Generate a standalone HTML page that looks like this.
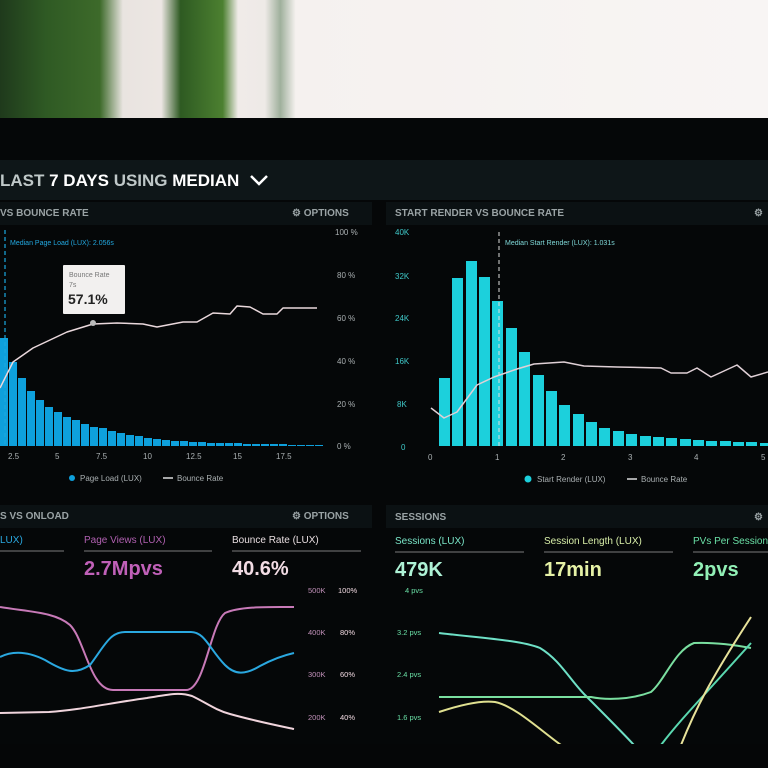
<!DOCTYPE html>
<html><head><meta charset="utf-8"><style>
html,body{margin:0;padding:0;width:768px;height:768px;overflow:hidden;background:#050607;font-family:"Liberation Sans",sans-serif;}
svg{display:block}
</style></head><body>
<svg width="768" height="768" viewBox="0 0 768 768" xmlns="http://www.w3.org/2000/svg" font-family="Liberation Sans, sans-serif">
<defs>
<linearGradient id="top" x1="0" x2="1" y1="0" y2="0">
<stop offset="0" stop-color="#1f3a1c"/>
<stop offset="0.06" stop-color="#2f5a24"/>
<stop offset="0.13" stop-color="#3d6a2a"/>
<stop offset="0.16" stop-color="#e9e4e0"/>
<stop offset="0.21" stop-color="#ece6e3"/>
<stop offset="0.235" stop-color="#2e5a22"/>
<stop offset="0.29" stop-color="#4c8030"/>
<stop offset="0.31" stop-color="#f0ebe8"/>
<stop offset="0.345" stop-color="#eeeae7"/>
<stop offset="0.365" stop-color="#9fb09c"/>
<stop offset="0.385" stop-color="#f5f1ef"/>
<stop offset="1" stop-color="#f8f5f4"/>
</linearGradient>
</defs>
<rect x="0" y="0" width="768" height="120" fill="url(#top)"/>
<rect x="0" y="118" width="768" height="650" fill="#050708"/>
<rect x="0" y="160" width="768" height="40" fill="#0e1618"/>
<text x="0" y="186" font-size="17" font-weight="bold" fill="#bfc8c8">LAST <tspan fill="#ffffff">7 DAYS</tspan> USING <tspan fill="#ffffff">MEDIAN</tspan></text>
<polyline points="251,176 259,184 267,176" fill="none" stroke="#fff" stroke-width="2.5"/>

<!-- panel headers -->
<rect x="0" y="202" width="372" height="23" fill="#0b1113"/>
<rect x="386" y="202" width="382" height="23" fill="#0b1113"/>
<text x="0" y="216" font-size="10" font-weight="bold" fill="#9aa3a5">VS BOUNCE RATE</text>
<text x="292" y="216" font-size="10" font-weight="bold" fill="#9aa3a5">⚙ OPTIONS</text>
<text x="395" y="216" font-size="10" font-weight="bold" fill="#9aa3a5">START RENDER VS BOUNCE RATE</text>
<text x="754" y="216" font-size="10" font-weight="bold" fill="#9aa3a5">⚙</text>

<!-- left chart -->
<g fill="#0ea0dc">
<rect x="0" y="338" width="8" height="108"/><rect x="9" y="362" width="8" height="84"/><rect x="18" y="378" width="8" height="68"/><rect x="27" y="391" width="8" height="55"/><rect x="36" y="400" width="8" height="46"/><rect x="45" y="407" width="8" height="39"/><rect x="54" y="412" width="8" height="34"/><rect x="63" y="417" width="8" height="29"/><rect x="72" y="420" width="8" height="26"/><rect x="81" y="424" width="8" height="22"/><rect x="90" y="427" width="8" height="19"/><rect x="99" y="428" width="8" height="18"/><rect x="108" y="431" width="8" height="15"/><rect x="117" y="433" width="8" height="13"/><rect x="126" y="435" width="8" height="11"/><rect x="135" y="436" width="8" height="10"/><rect x="144" y="438" width="8" height="8"/><rect x="153" y="439" width="8" height="7"/><rect x="162" y="440" width="8" height="6"/><rect x="171" y="441" width="8" height="5"/><rect x="180" y="441" width="8" height="5"/><rect x="189" y="442" width="8" height="4"/><rect x="198" y="442" width="8" height="4"/><rect x="207" y="443" width="8" height="3"/><rect x="216" y="443" width="8" height="3"/><rect x="225" y="443" width="8" height="3"/><rect x="234" y="443" width="8" height="3"/><rect x="243" y="444" width="8" height="2"/><rect x="252" y="444" width="8" height="2"/><rect x="261" y="444" width="8" height="2"/><rect x="270" y="444" width="8" height="2"/><rect x="279" y="444" width="8" height="2"/><rect x="288" y="445" width="8" height="1"/><rect x="297" y="445" width="8" height="1"/><rect x="306" y="445" width="8" height="1"/><rect x="315" y="445" width="8" height="1"/>
</g>
<line x1="5" y1="230" x2="5" y2="446" stroke="#1aa8e0" stroke-width="1.2" stroke-dasharray="4,3"/>
<text x="10" y="245" font-size="7" fill="#22a8e0">Median Page Load (LUX): 2.056s</text>
<polyline points="0,388 13,362 33,348 67,332 93,324 117,323 143,324 157,327 183,322 197,322 213,313 230,314 237,306 250,307 263,314 277,314 283,308 317,308" fill="none" stroke="#ead8dc" stroke-width="1.5" stroke-linejoin="round"/>
<circle cx="93" cy="323" r="3" fill="#bbb"/>
<rect x="63" y="265" width="62" height="49" fill="#f2f0ef" rx="1"/>
<text x="69" y="277" font-size="7" fill="#777">Bounce Rate</text>
<text x="69" y="287" font-size="7" fill="#777">7s</text>
<text x="68" y="304" font-size="14" font-weight="bold" fill="#222">57.1%</text>
<g font-size="8" fill="#aab0b2">
<text x="335" y="235">100 %</text><text x="337" y="278">80 %</text><text x="337" y="321">60 %</text><text x="337" y="364">40 %</text><text x="337" y="407">20 %</text><text x="337" y="449">0 %</text>
<text x="8" y="459">2.5</text><text x="55" y="459">5</text><text x="96" y="459">7.5</text><text x="143" y="459">10</text><text x="186" y="459">12.5</text><text x="233" y="459">15</text><text x="276" y="459">17.5</text>
</g>
<circle cx="72" cy="478" r="3" fill="#0ea0dc"/>
<text x="80" y="481" font-size="8" fill="#aab0b2">Page Load (LUX)</text>
<line x1="163" y1="478" x2="173" y2="478" stroke="#ddd" stroke-width="1.5"/>
<text x="177" y="481" font-size="8" fill="#aab0b2">Bounce Rate</text>

<!-- right chart -->
<g fill="#1cd0dc">
<rect x="439" y="378" width="11" height="68"/><rect x="452" y="278" width="11" height="168"/><rect x="466" y="261" width="11" height="185"/><rect x="479" y="277" width="11" height="169"/><rect x="492" y="301" width="11" height="145"/><rect x="506" y="328" width="11" height="118"/><rect x="519" y="352" width="11" height="94"/><rect x="533" y="375" width="11" height="71"/><rect x="546" y="391" width="11" height="55"/><rect x="559" y="405" width="11" height="41"/><rect x="573" y="414" width="11" height="32"/><rect x="586" y="422" width="11" height="24"/><rect x="599" y="428" width="11" height="18"/><rect x="613" y="431" width="11" height="15"/><rect x="626" y="434" width="11" height="12"/><rect x="640" y="436" width="11" height="10"/><rect x="653" y="437" width="11" height="9"/><rect x="666" y="438" width="11" height="8"/><rect x="680" y="439" width="11" height="7"/><rect x="693" y="440" width="11" height="6"/><rect x="706" y="441" width="11" height="5"/><rect x="720" y="441" width="11" height="5"/><rect x="733" y="442" width="11" height="4"/><rect x="746" y="442" width="11" height="4"/><rect x="760" y="443" width="11" height="3"/>
</g>
<line x1="499" y1="232" x2="499" y2="446" stroke="#ddd" stroke-width="1" stroke-dasharray="4,3"/>
<text x="505" y="245" font-size="7" fill="#7fd8d8">Median Start Render (LUX): 1.031s</text>
<polyline points="431,408 444,418 457,412 477,385 494,377 517,369 534,364 564,362 584,366 617,367 661,368 671,373 687,373 697,368 711,377 737,365 751,377 768,372" fill="none" stroke="#e0d0d6" stroke-width="1.5" stroke-linejoin="round"/>
<g font-size="8" fill="#3fc9c9">
<text x="395" y="235">40K</text><text x="395" y="279">32K</text><text x="395" y="321">24K</text><text x="395" y="364">16K</text><text x="397" y="407">8K</text><text x="401" y="450">0</text>
</g>
<g font-size="8" fill="#aab0b2">
<text x="428" y="460">0</text><text x="495" y="460">1</text><text x="561" y="460">2</text><text x="628" y="460">3</text><text x="694" y="460">4</text><text x="761" y="460">5</text>
</g>
<circle cx="528" cy="479" r="3.5" fill="#1cd0dc"/>
<text x="537" y="482" font-size="8" fill="#aab0b2">Start Render (LUX)</text>
<line x1="627" y1="479" x2="637" y2="479" stroke="#ddd" stroke-width="1.5"/>
<text x="641" y="482" font-size="8" fill="#aab0b2">Bounce Rate</text>

<!-- bottom panels -->
<rect x="0" y="505" width="372" height="23" fill="#0b1113"/>
<rect x="386" y="505" width="382" height="23" fill="#0b1113"/>
<text x="0" y="519" font-size="10" font-weight="bold" fill="#9aa3a5">S VS ONLOAD</text>
<text x="292" y="519" font-size="10" font-weight="bold" fill="#9aa3a5">⚙ OPTIONS</text>
<text x="395" y="520" font-size="10" font-weight="bold" fill="#9aa3a5">SESSIONS</text>
<text x="754" y="520" font-size="10" font-weight="bold" fill="#9aa3a5">⚙</text>

<g font-size="10">
<text x="0" y="543" fill="#2aa8e0">LUX)</text>
<text x="84" y="543" fill="#b060b0">Page Views (LUX)</text>
<text x="232" y="543" fill="#e8dde0">Bounce Rate (LUX)</text>
<text x="395" y="544" fill="#7ae6c8">Sessions (LUX)</text>
<text x="544" y="544" fill="#d8eea8">Session Length (LUX)</text>
<text x="693" y="544" fill="#6ae0a6">PVs Per Session</text>
</g>
<g stroke="#555" stroke-width="1.5">
<line x1="0" y1="551" x2="64" y2="551"/><line x1="84" y1="551" x2="212" y2="551"/><line x1="232" y1="551" x2="361" y2="551"/>
<line x1="395" y1="552" x2="524" y2="552"/><line x1="544" y1="552" x2="673" y2="552"/><line x1="693" y1="552" x2="768" y2="552"/>
</g>
<g font-size="20" font-weight="bold">
<text x="84" y="575" fill="#c060b8">2.7Mpvs</text>
<text x="232" y="575" fill="#f2dce4">40.6%</text>
<text x="395" y="576" fill="#aef2d6">479K</text>
<text x="544" y="576" fill="#e6f2a6">17min</text>
<text x="693" y="576" fill="#92f0b6">2pvs</text>
</g>
<g font-size="7.5">
<text x="308" y="593" fill="#c090b8">500K</text><text x="338" y="593" fill="#f0d8e0">100%</text>
<text x="308" y="635" fill="#c090b8">400K</text><text x="340" y="635" fill="#f0d8e0">80%</text>
<text x="308" y="677" fill="#c090b8">300K</text><text x="340" y="677" fill="#f0d8e0">60%</text>
<text x="308" y="720" fill="#c090b8">200K</text><text x="340" y="720" fill="#f0d8e0">40%</text>
<text x="405" y="593" fill="#6ae0a6">4 pvs</text>
<text x="397" y="635" fill="#6ae0a6">3.2 pvs</text>
<text x="397" y="677" fill="#6ae0a6">2.4 pvs</text>
<text x="397" y="720" fill="#6ae0a6">1.6 pvs</text>
</g>
<g fill="none" stroke-width="2" stroke-linejoin="round">
<path d="M0,607 C30,612 55,612 70,625 C85,640 90,690 113,690 L186,690 C205,690 210,625 225,613 C240,606 270,607 294,607" stroke="#c87ab8"/>
<path d="M0,657 C10,652 25,650 45,660 C65,672 75,675 90,665 C105,645 110,632 125,632 L191,632 C205,632 210,650 225,665 C235,675 245,675 260,666 C275,658 285,655 294,653" stroke="#2aa8e0"/>
<path d="M0,713 L49,712 C80,710 110,703 147,698 C170,694 180,692 192,696 C205,702 215,710 230,714 C255,721 275,725 294,729" stroke="#f0d4dc"/>
<path d="M439,633 C480,638 520,640 540,648 C560,660 570,680 585,695 C600,710 620,730 634,745" stroke="#6ee0c6"/>
<path d="M439,697 L591,697 C605,700 630,700 651,692 C665,680 675,650 694,643 C715,642 735,645 751,648" stroke="#7adfa0"/>
<path d="M661,745 C680,720 700,700 751,643" stroke="#5ad8b0"/>
<path d="M439,712 C460,705 480,700 495,702 C515,706 540,730 561,745" stroke="#e0e090"/>
<path d="M681,745 C695,710 710,680 751,617" stroke="#e8e29a"/>
</g>
<rect x="0" y="744" width="768" height="24" fill="#050607"/>
</svg>
</body></html>
